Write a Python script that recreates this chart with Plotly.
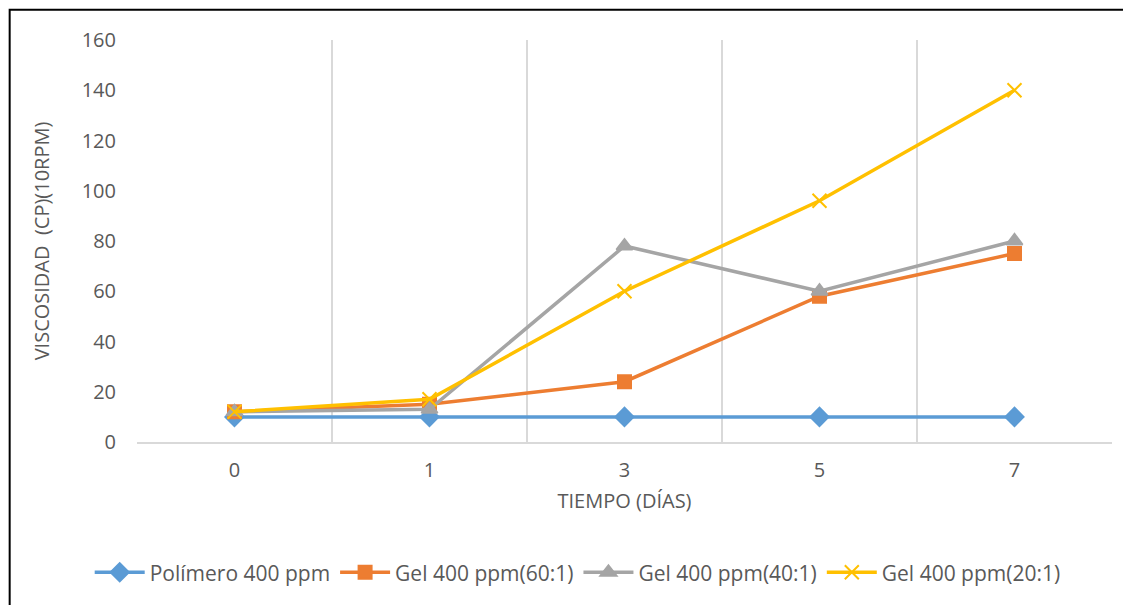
import plotly.graph_objects as go

dias = ["0", "1", "3", "5", "7"]
polimero = [10, 10, 10, 10, 10]
gel_60 = [12, 15, 24, 58, 75]
gel_40 = [12, 13, 78, 60, 80]
gel_20 = [12, 17, 60, 96, 140]
y_ticks = [0, 20, 40, 60, 80, 100, 120, 140, 160]

series = [
    ("Polímero 400 ppm", polimero, "#5B9BD5", "diamond", 14),
    ("Gel 400 ppm(60:1)", gel_60, "#ED7D31", "square", 13),
    ("Gel 400 ppm(40:1)", gel_40, "#A5A5A5", "triangle-up", 14),
    ("Gel 400 ppm(20:1)", gel_20, "#FFC000", "x-thin", 14),
]

fig = go.Figure()
for name, vals, color, sym, size in series:
    fig.add_trace(go.Scatter(
        x=dias, y=vals, name=name, mode="lines+markers",
        line=dict(color=color, width=3.5),
        marker=dict(symbol=sym, size=size, color=color,
                    line=dict(color=color, width=2)),
    ))

font = "Open Sans, Liberation Sans, sans-serif"
fsize = 20
fig.update_layout(
    width=1123, height=597,
    margin=dict(l=129, r=19, t=32, b=157),
    paper_bgcolor="white", plot_bgcolor="white",
    font=dict(family=font, size=fsize, color="#595959"),
    xaxis=dict(
        type="category", tickson="boundaries", ticks="",
        range=[-0.5, 4.5],
        showgrid=True, gridcolor="#D9D9D9", gridwidth=1.5,
        showline=True, linecolor="#D9D9D9", linewidth=1.5,
        title=dict(text="TIEMPO (DÍAS)", font=dict(size=fsize, color="#595959"), standoff=12),
        tickfont=dict(size=fsize, color="#595959"),
        ticklabelstandoff=9,
    ),
    yaxis=dict(
        range=[0, 160], tickvals=y_ticks, showgrid=False, zeroline=False,
        showline=False, ticks="",
        title=dict(text="VISCOSIDAD\u00a0\u00a0(CP)(10RPM)", font=dict(size=fsize, color="#595959"), standoff=26),
        tickfont=dict(size=fsize, color="#595959"),
        ticklabelstandoff=20,
    ),
    legend=dict(orientation="h", x=0.452, xanchor="center", y=-0.325, yanchor="middle",
                font=dict(size=21, color="#595959"), itemwidth=50, traceorder="normal"),
    shapes=[dict(type="rect", xref="paper", yref="paper",
                 x0=-0.1306, x1=1.2, y0=-1, y1=1.075,
                 line=dict(color="black", width=2), layer="below")],
)

fig.write_html("out.html")
